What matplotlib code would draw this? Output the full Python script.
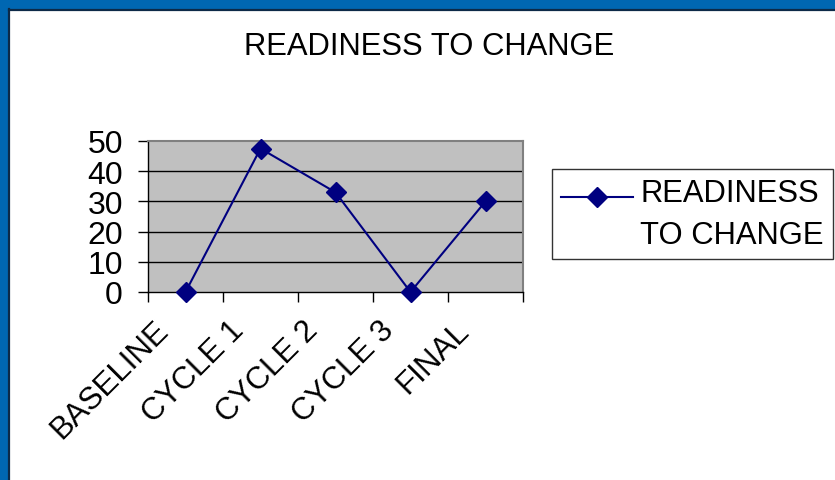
#!/usr/bin/env python3
# -*- coding: utf-8 -*-
"""
Readiness to change line chart, Excel style, saved to out.png.
"""

import numpy as np
import matplotlib
matplotlib.use('Agg')
import matplotlib.pyplot as plt
import matplotlib.transforms as mtransforms
from matplotlib.patches import Rectangle
from matplotlib.lines import Line2D
from matplotlib.legend_handler import HandlerLine2D

# Data
stages = ['BASELINE', 'CYCLE 1', 'CYCLE 2', 'CYCLE 3', 'FINAL']
readiness = [0, 47.5, 33, 0, 30]
y_ticks = [0, 10, 20, 30, 40, 50]
series_name = 'READINESS\nTO CHANGE'

plt.rcParams['font.family'] = ['Liberation Sans', 'DejaVu Sans']


class RaisedLine(HandlerLine2D):
    # Excel puts the legend key next to the first line of a wrapped label
    def __init__(self, raise_by=0, **kw):
        super().__init__(**kw)
        self.raise_by = raise_by

    def create_artists(self, *args, **kw):
        arts = super().create_artists(*args, **kw)
        for a in arts:
            a.set_ydata(np.asarray(a.get_ydata()) + self.raise_by)
        return arts


W, H = 835, 481
fig = plt.figure(figsize=(W / 100, H / 100), dpi=100)
fig.patch.set_facecolor('white')

# Blue slide frame (top and left)
blue = '#0067b2'
dark = '#0d2a48'
fig.patches.append(Rectangle((0, 0), 8 / W, 1, transform=fig.transFigure,
                             facecolor=blue, edgecolor='none'))
fig.patches.append(Rectangle((0, 1 - 10 / H), 1, 10 / H, transform=fig.transFigure,
                             facecolor=blue, edgecolor='none'))
fig.lines.append(Line2D([9 / W, 9 / W], [0, 1 - 10 / H], transform=fig.transFigure,
                        color=dark, lw=1.6))
fig.lines.append(Line2D([9 / W, 1], [1 - 10.5 / H, 1 - 10.5 / H],
                        transform=fig.transFigure, color=dark, lw=1.6))

# Plot area
ax = fig.add_axes([148 / W, 1 - 293 / H, 375 / W, 151 / H])
ax.set_facecolor('#c0c0c0')

x = np.arange(len(stages)) + 0.5
ax.plot(x, readiness, color='#000080', lw=1.5, marker='D', markersize=10,
        markerfacecolor='#000080', markeredgecolor='#000080',
        label=series_name, clip_on=False, zorder=5)

ax.set_xlim(0, len(stages))
ax.set_ylim(0, 50)

# gridlines
for v in y_ticks[1:-1]:
    ax.axhline(v, color='black', lw=1, zorder=1)

# tick marks at category boundaries, labels at centres
ax.set_xticks(np.arange(len(stages) + 1))
ax.set_xticklabels([])
ax.set_xticks(x, minor=True)
ax.set_xticklabels(stages, minor=True, rotation=45, ha='right', fontsize=22.5)
ax.tick_params(axis='x', which='major', direction='out', length=7, width=1, color='black')
ax.tick_params(axis='x', which='minor', length=0, pad=18)
shift = mtransforms.ScaledTranslation(-11 / 100, 2 / 100, fig.dpi_scale_trans)
for lab in ax.get_xticklabels(minor=True):
    lab.set_transform(lab.get_transform() + shift)

ax.set_yticks(y_ticks)
ax.set_yticklabels([str(v) for v in y_ticks], fontsize=23)
ax.tick_params(axis='y', direction='out', length=7, width=1, pad=11, color='black')

for side in ['left', 'bottom']:
    ax.spines[side].set_color('black')
    ax.spines[side].set_linewidth(1)
for side in ['top', 'right']:
    ax.spines[side].set_color('#808080')
    ax.spines[side].set_linewidth(1.5)

# Title
fig.text(429 / W, 1 - 47 / H, 'READINESS TO CHANGE', ha='center', va='center', fontsize=22.3)

# Legend
leg = ax.legend(loc='upper left', bbox_to_anchor=(552 / W, 1 - 170 / H),
                bbox_transform=fig.transFigure, borderaxespad=0, fontsize=22.3,
                frameon=True, fancybox=False, borderpad=0.3, handlelength=2.3,
                handletextpad=0.25, handler_map={Line2D: RaisedLine(raise_by=13)})
leg.get_frame().set_edgecolor('black')
leg.get_frame().set_linewidth(1)
for t in leg.get_texts():
    t.set_linespacing(1.5)

fig.savefig('out.png', dpi=100)
